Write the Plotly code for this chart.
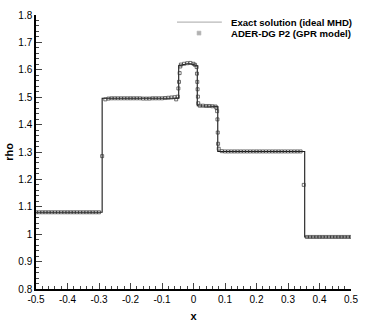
import plotly.graph_objects as go

# exact solution (ideal MHD), piecewise states
exact_x = [-0.5, -0.29, -0.29, -0.047, -0.047, -0.035, -0.02, -0.01, 0.0, 0.012,
           0.012, 0.077, 0.077, 0.353, 0.353, 0.5]
exact_rho = [1.08, 1.08, 1.496, 1.496, 1.615, 1.619, 1.622, 1.622, 1.62, 1.615,
             1.469, 1.466, 1.302, 1.302, 0.99, 0.99]

# ADER-DG P2 (GPR model) sample points
dg_x = [-0.50, -0.49, -0.48, -0.47, -0.46, -0.45, -0.44, -0.43, -0.42, -0.41,
        -0.40, -0.39, -0.38, -0.37, -0.36, -0.35, -0.34, -0.33, -0.32, -0.31,
        -0.30, -0.29, -0.28, -0.27, -0.26, -0.25, -0.24, -0.23, -0.22, -0.21,
        -0.20, -0.19, -0.18, -0.17, -0.16, -0.15, -0.14, -0.13, -0.12, -0.11,
        -0.10, -0.09, -0.08, -0.07, -0.06, -0.055, -0.05, -0.048, -0.046, -0.044,
        -0.042, -0.04, -0.03, -0.02, -0.01, 0.00, 0.005, 0.010, 0.011, 0.012,
        0.013, 0.014, 0.015, 0.02, 0.03, 0.04, 0.05, 0.06, 0.07, 0.073,
        0.075, 0.076, 0.077, 0.078, 0.08, 0.09, 0.10, 0.11, 0.12, 0.13,
        0.14, 0.15, 0.16, 0.17, 0.18, 0.19, 0.20, 0.21, 0.22, 0.23,
        0.24, 0.25, 0.26, 0.27, 0.28, 0.29, 0.30, 0.31, 0.32, 0.33,
        0.34, 0.35, 0.36, 0.37, 0.38, 0.39, 0.40, 0.41, 0.42, 0.43,
        0.44, 0.45, 0.46, 0.47, 0.48, 0.49, 0.50]
dg_rho = [1.08, 1.08, 1.08, 1.08, 1.08, 1.08, 1.08, 1.08, 1.08, 1.08,
          1.08, 1.08, 1.08, 1.08, 1.08, 1.08, 1.08, 1.08, 1.08, 1.08,
          1.08, 1.285, 1.492, 1.495, 1.496, 1.496, 1.496, 1.496, 1.496, 1.496,
          1.496, 1.496, 1.496, 1.496, 1.495, 1.495, 1.495, 1.496, 1.496, 1.496,
          1.496, 1.497, 1.498, 1.499, 1.500, 1.492, 1.502, 1.532, 1.556, 1.588,
          1.612, 1.619, 1.622, 1.624, 1.625, 1.622, 1.618, 1.610, 1.586, 1.556,
          1.529, 1.502, 1.478, 1.469, 1.469, 1.468, 1.468, 1.467, 1.466, 1.461,
          1.449, 1.419, 1.371, 1.330, 1.312, 1.303, 1.302, 1.302, 1.302, 1.302,
          1.302, 1.302, 1.302, 1.302, 1.302, 1.302, 1.302, 1.302, 1.302, 1.302,
          1.302, 1.302, 1.302, 1.302, 1.302, 1.302, 1.302, 1.302, 1.302, 1.302,
          1.302, 1.18, 0.99, 0.99, 0.99, 0.99, 0.99, 0.99, 0.99, 0.99,
          0.99, 0.99, 0.99, 0.99, 0.99, 0.99, 0.99]

x_ticks = [-0.5, -0.4, -0.3, -0.2, -0.1, 0, 0.1, 0.2, 0.3, 0.4, 0.5]
x_labels = ["-0.5", "-0.4", "-0.3", "-0.2", "-0.1", "0", "0.1", "0.2", "0.3", "0.4", "0.5"]
y_ticks = [0.8, 0.9, 1.0, 1.1, 1.2, 1.3, 1.4, 1.5, 1.6, 1.7, 1.8]
y_labels = ["0.8", "0.9", "1", "1.1", "1.2", "1.3", "1.4", "1.5", "1.6", "1.7", "1.8"]

legend_names = ["Exact solution (ideal MHD)", "ADER-DG P2 (GPR model)"]

FONT = "Liberation Sans, Arial, sans-serif"
LINE_COL = "#1a1a1a"
MARK_COL = "#333333"

fig = go.Figure()
fig.add_trace(go.Scatter(x=exact_x, y=exact_rho, mode="lines",
                         name=legend_names[0], showlegend=False,
                         line=dict(color=LINE_COL, width=1.1)))
fig.add_trace(go.Scatter(x=dg_x, y=dg_rho, mode="markers",
                         name=legend_names[1], showlegend=False,
                         marker=dict(symbol="square-open", size=3,
                                     color=MARK_COL, line=dict(width=0.7))))

# hand-made legend (tecplot style, tight rows)
row_y = [0.974, 0.934]
fig.add_shape(type="line", xref="paper", yref="paper",
              x0=0.4476, x1=0.590, y0=row_y[0], y1=row_y[0],
              line=dict(color=LINE_COL, width=1.2))
fig.add_shape(type="rect", xref="paper", yref="paper",
              xsizemode="pixel", ysizemode="pixel",
              xanchor=0.5175, yanchor=row_y[1],
              x0=-2, x1=2, y0=-2, y1=2,
              line=dict(color=MARK_COL, width=0.6))
for name, yy in zip(legend_names, row_y):
    fig.add_annotation(xref="paper", yref="paper", x=0.6127, y=yy,
                       xanchor="left", yanchor="middle", showarrow=False,
                       text="<b>%s</b>" % name,
                       font=dict(family=FONT, size=9.6, color="black"))

fig.update_layout(template="simple_white",
                  width=368, height=327,
                  margin=dict(l=36, r=17, t=15, b=38),
                  paper_bgcolor="white", plot_bgcolor="white",
                  font=dict(family=FONT, size=10, color="black"),
                  showlegend=False,
                  )

fig.update_xaxes(range=[-0.5, 0.5], tickvals=x_ticks, ticktext=x_labels,
                 ticks="inside", ticklen=6, tickwidth=1, showline=True,
                 linewidth=1.5, linecolor="black", mirror=False, automargin=False,
                 minor=dict(ticks="inside", dtick=0.02, ticklen=3, tickwidth=1),
                 title=dict(text="<b>x</b>", standoff=9, font=dict(size=11)))
fig.update_yaxes(range=[0.8, 1.8], tickvals=y_ticks, ticktext=y_labels,
                 ticks="inside", ticklen=6, tickwidth=1, showline=True,
                 linewidth=1.5, linecolor="black", mirror=False, automargin=False,
                 minor=dict(ticks="inside", dtick=0.02, ticklen=3, tickwidth=1),
                 title=dict(text="<b>rho</b>", standoff=2, font=dict(size=11)))

# drop the browser's default 8px body margin so the figure sits at the page corner
fig.write_html("out.html", config={"displayModeBar": False},
               post_script="document.body.style.margin='0px';")
